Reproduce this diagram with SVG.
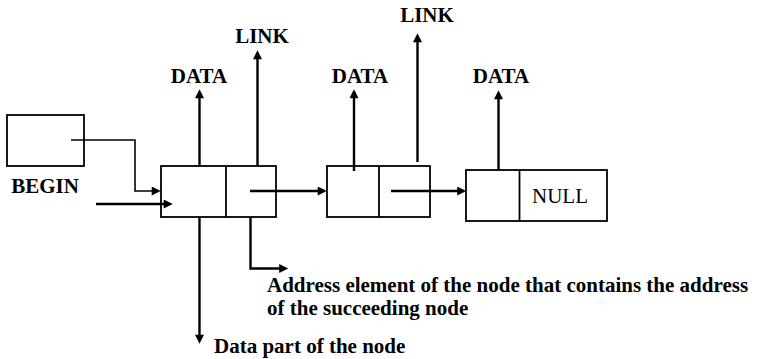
<svg xmlns="http://www.w3.org/2000/svg" width="757" height="359" viewBox="0 0 757 359">
<style>
.box{fill:#fff;stroke:#000;stroke-width:1.8}
.div{stroke:#000;stroke-width:1.8}
.ln{fill:none;stroke:#000;stroke-width:2.4}
.thin{fill:none;stroke:#000;stroke-width:1.6}
.lbl{font-family:"Liberation Serif","Times New Roman",serif;font-weight:bold;font-size:21px;fill:#000}
.nul{font-family:"Liberation Serif","Times New Roman",serif;font-size:21px;fill:#000}
</style>
<defs>
<marker id="ah" viewBox="0 0 10 10" markerUnits="userSpaceOnUse" markerWidth="10" markerHeight="9" refX="7" refY="5" orient="auto">
<path d="M0,0 L10,5 L0,10 z" fill="#000"/>
</marker>
</defs>
<rect width="757" height="359" fill="#fff"/>
<g id="begin">
<rect class="box" x="7" y="115" width="77" height="51"/>
<text class="lbl" x="45" y="193" text-anchor="middle">BEGIN</text>
</g>
<g id="node1">
<rect class="box" x="161" y="166" width="115" height="51"/>
<line class="div" x1="226" y1="166" x2="226" y2="217"/>
</g>
<g id="node2">
<rect class="box" x="327" y="166" width="103" height="51"/>
<line class="div" x1="379" y1="166" x2="379" y2="217"/>
</g>
<g id="node3">
<rect class="box" x="466" y="170" width="141" height="51"/>
<line class="div" x1="519.5" y1="170" x2="519.5" y2="221"/>
<text class="nul" x="532" y="203">NULL</text>
</g>
<g id="labels">
<text class="lbl" x="199" y="83" text-anchor="middle">DATA</text>
<text class="lbl" x="262" y="43" text-anchor="middle">LINK</text>
<text class="lbl" x="360" y="83" text-anchor="middle">DATA</text>
<text class="lbl" x="427" y="22" text-anchor="middle">LINK</text>
<text class="lbl" x="501" y="83" text-anchor="middle">DATA</text>
<text class="lbl" x="267" y="292">Address element of the node that contains the address</text>
<text class="lbl" x="267" y="315">of the succeeding node</text>
<text class="lbl" x="214" y="353">Data part of the node</text>
</g>
<g id="connectors">
<polyline class="thin" points="71,140 135,140 135,191 158,191" marker-end="url(#ah)"/>
<line class="ln" x1="96" y1="204" x2="170" y2="204" marker-end="url(#ah)"/>
<line class="ln" x1="199.5" y1="166" x2="199.5" y2="92" marker-end="url(#ah)"/>
<line class="ln" x1="257.5" y1="166" x2="257.5" y2="53" marker-end="url(#ah)"/>
<line class="ln" x1="250" y1="191" x2="324" y2="191" marker-end="url(#ah)"/>
<line class="ln" x1="199.5" y1="217" x2="199.5" y2="341" marker-end="url(#ah)"/>
<polyline class="ln" points="250.5,217 250.5,268.5 285.5,268.5" marker-end="url(#ah)"/>
<line class="ln" x1="354" y1="171" x2="354" y2="92" marker-end="url(#ah)"/>
<line class="ln" x1="417.5" y1="162" x2="417.5" y2="36" marker-end="url(#ah)"/>
<line class="ln" x1="391" y1="191" x2="463.5" y2="191" marker-end="url(#ah)"/>
<line class="ln" x1="498.5" y1="170" x2="498.5" y2="93" marker-end="url(#ah)"/>
</g>
</svg>
